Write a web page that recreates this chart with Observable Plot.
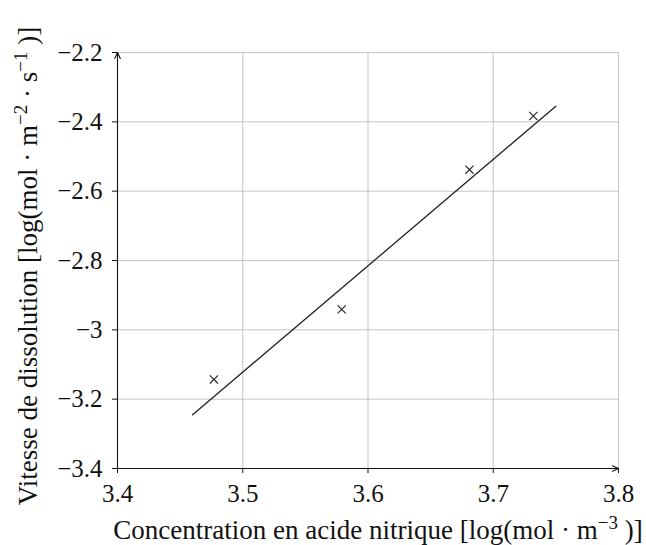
<!DOCTYPE html>
<html><head><meta charset="utf-8">
<script src="https://cdn.jsdelivr.net/npm/d3@7"></script>
<script src="https://cdn.jsdelivr.net/npm/@observablehq/plot@0.6"></script>
<style>body{margin:0;background:#fff}</style>
</head><body><div id="chart"></div>
<script>
const concentration = [3.477, 3.579, 3.681, 3.732];
const rate = [-3.143, -2.941, -2.538, -2.383];
const fitX = [3.460, 3.750];
const fitY = [-3.245, -2.355];
const xTicks = [3.4, 3.5, 3.6, 3.7, 3.8];
const yTicks = [-3.4, -3.2, -3, -2.8, -2.6, -2.4, -2.2];
const xDomain = [3.4, 3.8];
const yDomain = [-3.4, -2.2];

const points = concentration.map((c, i) => ({x: c, y: rate[i]}));
const fit = fitX.map((x, i) => ({x, y: fitY[i]}));
const axes = [
  {x1: xDomain[0], y1: yDomain[0], x2: xDomain[1], y2: yDomain[0]},
  {x1: xDomain[0], y1: yDomain[0], x2: xDomain[0], y2: yDomain[1]}
];
const FONT = "'Liberation Serif', 'DejaVu Serif', serif";
const fmt = d => String(d).replace("-", "\u2212");

const chart = Plot.plot({
  width: 646, height: 545,
  marginLeft: 117, marginRight: 28, marginTop: 52, marginBottom: 77,
  x: {domain: xDomain},
  y: {domain: yDomain},
  style: {fontFamily: FONT, fontSize: "25px", background: "white", color: "#111"},
  marks: [
    Plot.gridX(xTicks, {stroke: "#c4c4c4", strokeOpacity: 1, strokeWidth: 1}),
    Plot.gridY(yTicks, {stroke: "#c4c4c4", strokeOpacity: 1, strokeWidth: 1}),
    Plot.axisX(xTicks, {tickSize: 5, tickPadding: 11, label: null, fontSize: 25, tickFormat: fmt}),
    Plot.axisY(yTicks, {tickSize: 5, tickPadding: 10, label: null, fontSize: 25, tickFormat: fmt}),
    Plot.arrow(axes, {x1: "x1", y1: "y1", x2: "x2", y2: "y2", stroke: "#111", strokeWidth: 1.1, headLength: 9, headAngle: 50}),
    Plot.line(fit, {x: "x", y: "y", stroke: "#222", strokeWidth: 1.3}),
    Plot.dot(points, {x: "x", y: "y", symbol: "times", r: 3.8, stroke: "#222", strokeWidth: 1.1})
  ]
});

const svg = d3.select(chart);
function addLabel(parts, attrs) {
  const t = svg.append("text")
    .attr("font-family", FONT).attr("font-size", 27).attr("fill", "#111");
  Object.entries(attrs).forEach(([k, v]) => t.attr(k, v));
  parts.forEach(p => {
    const s = t.append("tspan").text(p.t);
    if (p.sup) s.attr("baseline-shift", "super").attr("font-size", 19);
  });
  return t;
}
addLabel([
  {t: "Concentration en acide nitrique [log(mol · m"},
  {t: "−3", sup: true},
  {t: " )]"}
], {x: 378, y: 539, "text-anchor": "middle"});
addLabel([
  {t: "Vitesse de dissolution [log(mol · m"},
  {t: "−2", sup: true},
  {t: " · s"},
  {t: "−1", sup: true},
  {t: " )]"}
], {transform: "translate(37,266) rotate(-90)", "text-anchor": "middle"});

document.getElementById("chart").appendChild(chart);
</script>
</body></html>
